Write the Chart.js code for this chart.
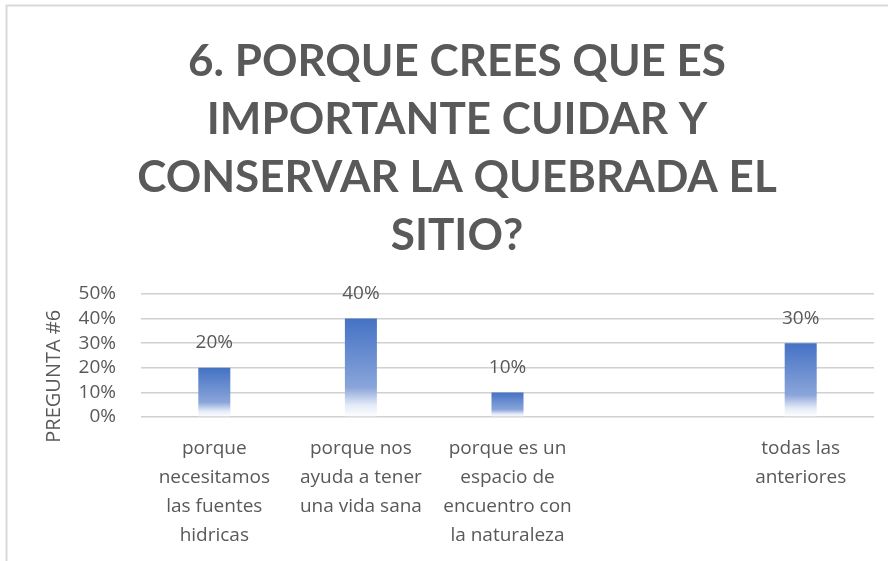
<!DOCTYPE html>
<html>
<head>
<meta charset="utf-8">
<script src="https://cdn.jsdelivr.net/npm/chart.js@4/dist/chart.umd.min.js"></script>
<style>
  html, body { margin: 0; padding: 0; background: #ffffff; }
  #wrap { width: 888px; height: 561px; position: relative; }
</style>
</head>
<body>
<div id="wrap"><canvas id="c" width="888" height="561"></canvas></div>
<script>
const titleLines = ["6. PORQUE CREES QUE ES", "IMPORTANTE CUIDAR Y", "CONSERVAR LA QUEBRADA EL", "SITIO?"];
const categories = [
  ["porque", "necesitamos", "las fuentes", "hidricas"],
  ["porque nos", "ayuda a tener", "una vida sana"],
  ["porque es un", "espacio de", "encuentro con", "la naturaleza"],
  [""],
  ["todas las", "anteriores"]
];
const values = [0.20, 0.40, 0.10, null, 0.30];
const yAxisTitle = "PREGUNTA #6";
const yTicks = [0, 0.1, 0.2, 0.3, 0.4, 0.5];

const textColor = '#595959';
const fontFamily = "'Open Sans', 'Noto Sans', sans-serif";

function barGradient(ctx) {
  const chart = ctx.chart;
  const y = chart.scales.y;
  if (!y || ctx.raw == null) return '#4472C4';
  const top = y.getPixelForValue(ctx.raw);
  const base = y.getPixelForValue(0);
  if (!isFinite(top) || !isFinite(base) || top === base) return '#4472C4';
  const g = chart.ctx.createLinearGradient(0, top, 0, base);
  g.addColorStop(0, '#4472C4');
  g.addColorStop(0.70, '#8aa5da');
  g.addColorStop(0.88, '#e4ebf7');
  g.addColorStop(1, '#ffffff');
  return g;
}

const borderPlugin = {
  id: 'frame',
  beforeDraw(chart) {
    const c = chart.ctx;
    c.save();
    c.strokeStyle = '#d9d9d9';
    c.lineWidth = 2;
    c.beginPath();
    c.moveTo(6.5, 900);
    c.lineTo(6.5, 5.5);
    c.lineTo(900, 5.5);
    c.stroke();
    c.restore();
  }
};

const labelPlugin = {
  id: 'valueLabels',
  afterDatasetsDraw(chart) {
    const c = chart.ctx;
    const meta = chart.getDatasetMeta(0);
    c.save();
    c.font = "19px " + fontFamily;
    c.fillStyle = textColor;
    c.textAlign = 'center';
    c.textBaseline = 'middle';
    meta.data.forEach((bar, i) => {
      const v = values[i];
      if (v == null) return;
      c.fillText(Math.round(v * 100) + '%', bar.x, bar.y - 25);
    });
    c.restore();
  }
};

new Chart(document.getElementById('c'), {
  type: 'bar',
  data: {
    labels: categories,
    datasets: [{
      data: values,
      backgroundColor: barGradient,
      borderWidth: 0,
      categoryPercentage: 0.8,
      barPercentage: 0.273
    }]
  },
  options: {
    responsive: false,
    animation: false,
    events: [],
    layout: { padding: { left: 40, right: 14, top: 0, bottom: -6 } },
    plugins: {
      legend: { display: false },
      tooltip: { enabled: false },
      title: {
        display: true,
        text: titleLines,
        color: textColor,
        font: { family: "Lato, 'Open Sans', sans-serif", size: 44, weight: 'bold', lineHeight: 58 / 44 },
        padding: { top: 33, bottom: 29 }
      }
    },
    scales: {
      x: {
        grid: { display: false, drawTicks: false },
        border: { display: false },
        ticks: {
          color: textColor,
          font: { family: fontFamily, size: 19, lineHeight: 29 / 19 },
          padding: 17,
          maxRotation: 0,
          minRotation: 0,
          autoSkip: false
        }
      },
      y: {
        min: 0,
        max: 0.5,
        border: { display: false },
        grid: { color: '#d0d0d0', lineWidth: 1.5, drawTicks: false },
        afterBuildTicks(axis) { axis.ticks = yTicks.map(v => ({ value: v })); },
        afterFit(axis) { axis.width = 101; },
        ticks: {
          color: textColor,
          font: { family: fontFamily, size: 19 },
          padding: 25,
          autoSkip: false,
          callback: (v) => Math.round(v * 100) + '%'
        },
        title: {
          display: true,
          text: yAxisTitle + "        ",
          color: textColor,
          font: { family: fontFamily, size: 20 },
          padding: { top: 2, bottom: 0 }
        }
      }
    }
  },
  plugins: [borderPlugin, labelPlugin]
});
</script>
</body>
</html>
